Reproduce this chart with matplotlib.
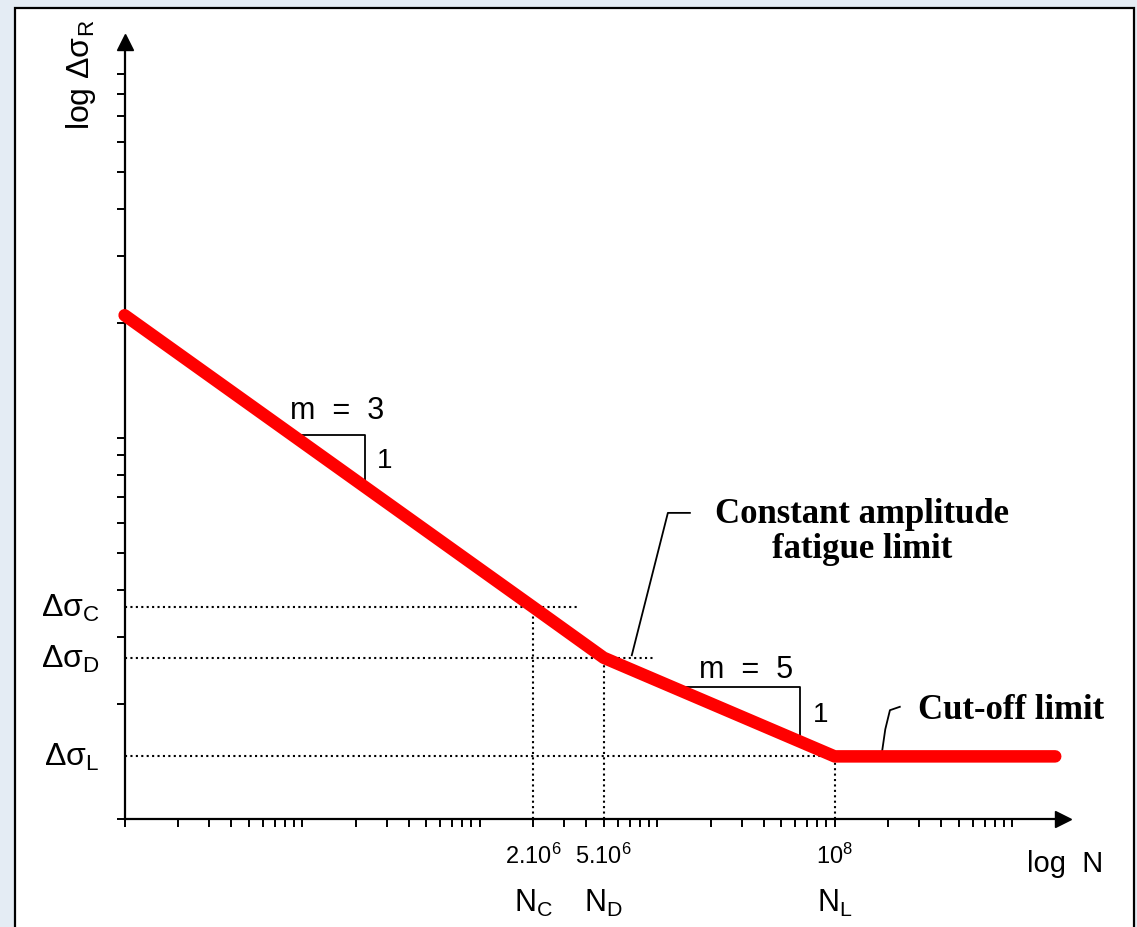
"""S-N fatigue curve sketch (log N vs log delta sigma)."""

import matplotlib

matplotlib.use("Agg")
import matplotlib.pyplot as plt
import numpy as np
from matplotlib.patches import Rectangle
from matplotlib.ticker import LogLocator, NullFormatter, FixedLocator

plt.rcParams["mathtext.fontset"] = "custom"
plt.rcParams["mathtext.rm"] = "Liberation Sans"
plt.rcParams["mathtext.it"] = "Liberation Sans:italic"
plt.rcParams["mathtext.bf"] = "Liberation Sans:bold"
plt.rcParams["font.family"] = ["Liberation Sans", "DejaVu Sans"]

# curve
curve_N = [1e4, 2e6, 5e6, 1e8, 1.75e9]
curve_stress = [21.0, 3.6, 2.65, 1.46, 1.46]

# characteristic points
N_C, N_D, N_L = 2e6, 5e6, 1e8
ds_C, ds_D, ds_L = 3.6, 2.65, 1.46
ref_levels = [ds_C, ds_D, ds_L]
ref_level_ends = [3.7e6, 9.5e6, N_L]
ref_level_labels = [r"$\mathregular{Δσ_C}$", r"$\mathregular{Δσ_D}$", r"$\mathregular{Δσ_L}$"]
ref_N = [N_C, N_D, N_L]
ref_N_labels = [r"$\mathregular{2.10^6}$", r"$\mathregular{5.10^6}$", r"$\mathregular{10^8}$"]
ref_N_names = [r"$\mathregular{N_C}$", r"$\mathregular{N_D}$", r"$\mathregular{N_L}$"]

# slope triangles (N range)
tri_m3_N = [8.8e4, 2.26e5]
tri_m5_N = [1.23e7, 6.4e7]

# leader lines
leader_cafl_N = [7.2e6, 1.15e7, 1.53e7]
leader_cafl_s = [2.69, 6.36, 6.36]
leader_cut_N = [1.85e8, 1.93e8, 2.05e8, 2.33e8]
leader_cut_s = [1.50, 1.72, 1.93, 1.97]

y_minor_ticks = [2, 3, 4, 5, 6, 7, 8, 9, 10, 20, 30, 40, 50, 60, 70, 80, 90]

W, H = 1137, 927
fig = plt.figure(figsize=(W / 100, H / 100), dpi=100)
fig.patch.set_facecolor("#e4ecf4")
fig.patches.append(Rectangle((15 / W, -0.02), (1134 - 15) / W, (H - 8) / H + 0.02,
                             transform=fig.transFigure, facecolor="white",
                             edgecolor="black", linewidth=1.6, zorder=-5))

x0, x1, y_bot, y_top = 124.6, 1063, 819, 42
ax = fig.add_axes([x0 / W, (H - y_bot) / H, (x1 - x0) / W, (y_bot - y_top) / H])
ax.set_facecolor("none")
ax.set_xscale("log")
ax.set_yscale("log")
ax.set_xlim(1e4, 10 ** (4 + (x1 - x0) / 177.5))
ax.set_ylim(1, 10 ** ((y_bot - y_top) / 381))

for side in ("top", "right"):
    ax.spines[side].set_visible(False)
for side in ("left", "bottom"):
    ax.spines[side].set_linewidth(1.6)
ax.plot(1, 0, marker=">", color="black", markersize=11, transform=ax.transAxes, clip_on=False)
ax.plot(0, 1, marker="^", color="black", markersize=11, transform=ax.transAxes, clip_on=False)

ax.xaxis.set_major_locator(LogLocator(base=10, numticks=20))
ax.xaxis.set_minor_locator(LogLocator(base=10, subs=np.arange(2, 10), numticks=20))
ax.yaxis.set_major_locator(FixedLocator([1]))
ax.yaxis.set_minor_locator(FixedLocator(y_minor_ticks))
for axis in (ax.xaxis, ax.yaxis):
    axis.set_major_formatter(NullFormatter())
    axis.set_minor_formatter(NullFormatter())
ax.tick_params(which="both", direction="out", length=6, width=1.4, color="black")

# red S-N curve
ax.plot(curve_N, curve_stress, color="#ff0000", linewidth=9,
        solid_capstyle="round", solid_joinstyle="round", zorder=5, clip_on=False)

dot = dict(color="black", linewidth=1.5, linestyle=(0, (1, 1.6)), zorder=3)
for lev, end in zip(ref_levels, ref_level_ends):
    ax.plot([1e4, end], [lev, lev], **dot)
for n, lev in zip(ref_N, ref_levels):
    ax.plot([n, n], [1, lev], **dot)

for lev, lab in zip(ref_levels, ref_level_labels):
    ax.annotate(lab, xy=(0, lev), xycoords=("axes fraction", "data"),
                xytext=(-25, -10), textcoords="offset pixels",
                ha="right", va="baseline", fontsize=23)
for n, lab, name in zip(ref_N, ref_N_labels, ref_N_names):
    ax.annotate(lab, xy=(n, 0), xycoords=("data", "axes fraction"),
                xytext=(0, -45), textcoords="offset pixels",
                ha="center", va="baseline", fontsize=17)
    ax.annotate(name, xy=(n, 0), xycoords=("data", "axes fraction"),
                xytext=(0, -93), textcoords="offset pixels",
                ha="center", va="baseline", fontsize=22)

ax.annotate("log  N", xy=(1, 0), xycoords="axes fraction", xytext=(40, -53),
            textcoords="offset pixels", ha="right", va="baseline", fontsize=21)
ax.annotate(r"$\mathregular{log\ Δσ_R}$", xy=(0, 1), xycoords="axes fraction",
            xytext=(-27, 22), textcoords="offset pixels", ha="right", va="top",
            rotation=90, fontsize=23)


def curve_at(n):
    return 10 ** np.interp(np.log10(n), np.log10(curve_N), np.log10(curve_stress))


for tri, label, dy in ((tri_m3_N, "m  =  3", 16), (tri_m5_N, "m  =  5", 9)):
    s_top = curve_at(tri[0])
    s_bot = curve_at(tri[1])
    ax.plot([tri[0], tri[1], tri[1]], [s_top, s_top, s_bot], color="black",
            linewidth=1.3, zorder=4)
    mid = np.sqrt(tri[0] * tri[1])
    ax.annotate(label, xy=(mid, s_top), xytext=(9, dy), textcoords="offset pixels",
                ha="center", va="baseline", fontsize=22)
    ax.annotate("1", xy=(tri[1], np.sqrt(s_top * s_bot)), xytext=(20, 0),
                textcoords="offset pixels", ha="center", va="center", fontsize=20)

ax.plot(leader_cafl_N, leader_cafl_s, color="black", linewidth=1.3, zorder=4)
ax.plot(leader_cut_N, leader_cut_s, color="black", linewidth=1.3, zorder=4)
ax.text(1.43e8, 5.67, "Constant amplitude\nfatigue limit", ha="center", va="center",
        fontsize=25, fontweight="bold", family="Liberation Serif", linespacing=1.05)
ax.text(2.95e8, 1.93, "Cut-off limit", ha="left", va="center",
        fontsize=25, fontweight="bold", family="Liberation Serif")

fig.savefig("out.png", dpi=100, facecolor=fig.get_facecolor())
